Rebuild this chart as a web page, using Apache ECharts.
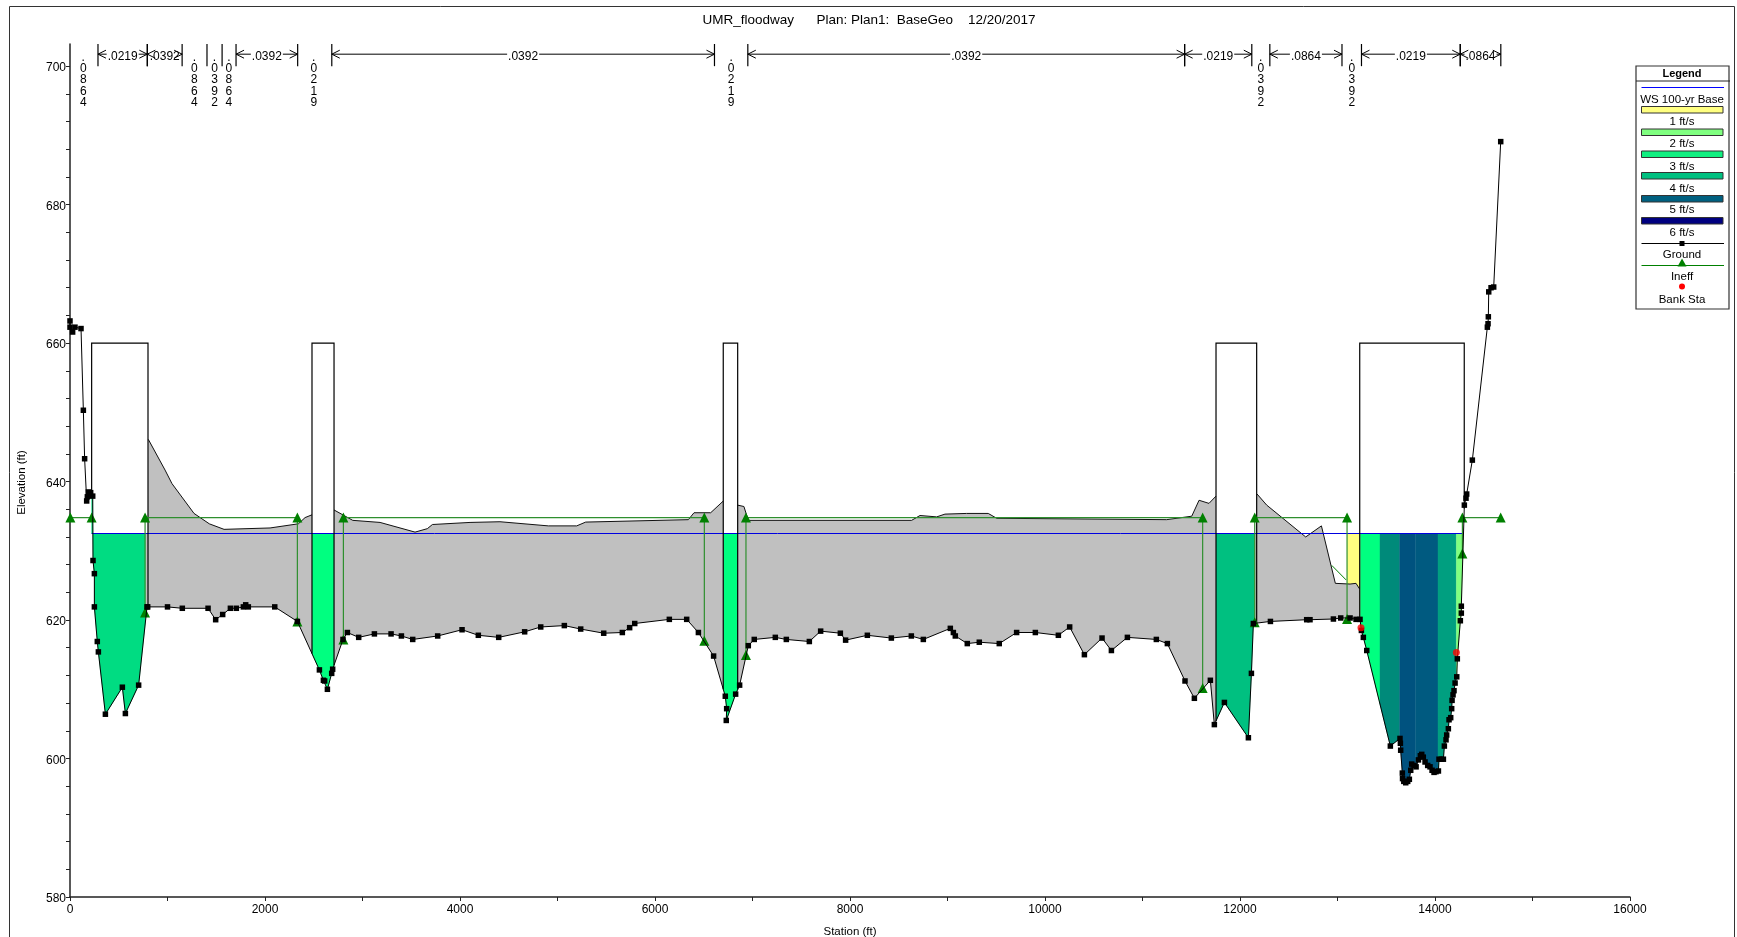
<!DOCTYPE html>
<html><head><meta charset="utf-8">
<style>html,body{margin:0;padding:0;background:#fff;overflow:hidden}#c{width:1737px;height:937px}</style>
<script src="https://cdn.jsdelivr.net/npm/echarts@6/dist/echarts.min.js"></script>
</head><body><div id="c"></div>
<script>
const FONT = '"Liberation Sans", Arial, sans-serif';
const titleText = 'UMR_floodway      Plan: Plan1:  BaseGeo    12/20/2017';
const xLabelEvery = 2000;
const yLabels = [580,600,620,640,660,680,700];
const yTicks = [580,584,588,592,596,600,604,608,612,616,620,624,628,632,636,640,644,648,652,656,660,664,668,672,676,680,684,688,692,696,700];
const wsElev = 632.5;
const blockTop = 660;

const ground = [[0,663.2],[0,662.3],[27,661.6],[51,662.3],[113,662.1],[137,650.3],[150,643.3],[171,637.2],[178,637.8],[188,638.5],[212,638.4],[233,637.9],
[236,628.6],[250,626.7],[250,621.9],[280,616.9],[291,615.4],[363,606.4],[537,610.3],[568,606.5],[704,610.6],[790,621.9],[797,621.9],[1000,621.9],[1152,621.7],[1416,621.7],[1494,620.05],[1566,620.8],[1645,621.7],[1706,621.7],[1778,621.9],[1802,622.2],[1829,621.9],[2100,621.9],[2332,619.8],[2558,612.8],[2599,611.3],[2612,611.2],[2640,610.0],[2684,612.3],[2694,612.9],[2800,617.2],[2845,618.2],[2961,617.5],[3122,618.0],[3293,618.0],[3399,617.7],[3515,617.2],[3771,617.7],
[4021,618.6],[4188,617.8],[4397,617.5],[4663,618.3],[4828,619.0],[5070,619.2],[5238,618.7],[5474,618.1],[5665,618.2],[5740,618.9],[5792,619.5],[6147,620.1],[6325,620.1],[6445,618.2],[6601,614.8],[6721,609.0],[6735,607.2],[6731,605.5],[6827,609.3],[6868,610.6],[6957,616.3],[7018,617.2],[7234,617.5],[7347,617.2],[7583,616.9],[7699,618.4],[7901,618.1],[7955,617.1],[8178,617.8],[8424,617.4],[8629,617.7],[8752,617.2],[9029,618.8],[9060,618.2],[9080,617.7],[9203,616.6],[9326,616.8],[9531,616.6],[9709,618.2],[9901,618.2],[10137,617.8],[10253,619.0],[10404,615.0],[10585,617.4],[10681,615.6],[10845,617.5],[11142,617.2],[11255,616.6],[11436,611.2],[11532,608.7],[11696,611.3],[11737,604.9],[11840,608.1],[12086,603.0],[12117,612.3],[12137,619.5],[12312,619.8],[12684,620.05],[12718,620.05],[12958,620.15],[13033,620.3],[13129,620.3],[13190,620.1],[13231,620.1],[13245,618.5],[13265,617.5],[13300,615.6],[13542,601.8],
[13641,602.9],[13645,602.2],[13648,601.2],[13665,597.9],[13667,597.1],[13680,596.7],[13700,596.5],[13720,596.7],[13737,597.0],[13751,598.3],[13761,599.2],[13785,599.0],[13806,598.8],[13830,599.8],[13850,600.4],[13864,600.6],[13880,600.2],[13898,599.5],[13925,599.0],[13949,598.8],[13970,598.3],[13990,598.0],[14010,598.1],[14035,598.2],[14041,599.9],[14065,599.9],[14086,599.9],[14096,601.8],[14113,602.7],[14120,603.4],[14137,604.3],[14144,605.6],[14161,605.9],[14171,607.2],[14175,608.4],[14185,609.2],[14195,609.8],[14206,610.9],[14223,611.8],[14229,614.4],[14260,619.9],[14270,621.0],[14270,622.0],[14301,636.6],[14318,637.6],[14325,638.2],[14383,643.1],[14537,662.3],[14544,662.8],[14547,663.8],[14551,667.4],[14575,668.0],[14602,668.1],[14674,689.1]];

const ineff = [[4,634.8],[222,634.8],null,
[770,621.1],[770,634.8],[2332,634.8],[2332,619.8],null,
[2804,617.2],[2804,634.8],[6506,634.8],[6506,617.0],null,
[6933,614.95],[6933,634.8],[11617,634.8],[11617,610.2],null,
[12151,619.7],[12151,634.8],[13098,634.8],[13098,620.15],null,
[14281,629.6],[14281,634.8],[14674,634.8]];
const ineffDiag = [[12941,627.9],[13088,625.8]];
const bankSta = [[13241,618.9],[14219,615.3]];

// velocity strips: from station, to station, colour
const stripFrom = [222,2482,6700,11754,13101,13234,13436,13638,13800,14031,14219];
const stripTo   = [775,2708,6848,12151,13234,13436,13638,13800,14031,14219,14291];
const stripCol  = ['#00DC82','#00FF80','#00FF80','#00C080','#FFFF80','#00FF80','#008A7A','#00527F','#005A80','#009F80','#80FF80'];

// grey obstructed terrain: upper outline per reach
const greyTops = [
 [[775,632.5],[800,632.5],[803,646.1],[975,641.66],[1046,639.7],[1272,635.4],[1429,633.9],[1580,633.1],[2052,633.3],[2342,633.9],[2411,634.8],[2482,635.2]],
 [[2708,635.9],[2900,634.4],[3180,634.1],[3539,632.7],[3665,633.2],[3717,633.8],[4103,634.1],[4410,634.2],[4906,633.6],[5197,633.6],[5289,634.15],[6342,634.5],[6400,635.5],[6571,635.5],[6701,637.2]],
 [[6847,636.6],[6912,636.4],[6957,634.4],[8632,634.4],[8718,635.1],[8889,634.9],[8974,635.3],[9196,635.4],[9418,635.4],[9504,634.7],[10359,634.6],[11248,634.5],[11505,635.0],[11580,637.3],[11682,636.85],[11754,637.9]],
 [[12151,632.5],[12171,632.5],[12175,638.2],[12274,636.6],[12674,632.0],[12835,633.6],[12978,625.3],[13129,625.2],[13190,625.3],[13226,624.5]]
];

// blocked rectangles
const blockFrom = [222,2482,6700,11754,13228];
const blockTo   = [800,2708,6848,12171,14300];

// Manning's n annotation
const nSpans = [[287,793,'.0219'],[793,1150,'.0392'],[1703,2335,'.0392'],[2685,6610,'.0392'],[6952,11432,'.0392'],[11432,12121,'.0219'],[12306,13046,'.0864'],[13246,14259,'.0219'],[14259,14675,'.0864']];
const nBars = [1405,1560];
const nVert = [[136,'.0864'],[1275,'.0864'],[1482,'.0392'],[1630,'.0864'],[2500,'.0219'],[6780,'.0219'],[12213,'.0392'],[13146,'.0392']];
const nTop = 703.2, nBottom = 700, nLine = 701.73;

const legendLabels = ['WS 100-yr Base','1 ft/s','2 ft/s','3 ft/s','4 ft/s','5 ft/s','6 ft/s','Ground','Ineff','Bank Sta'];
const legendLabelY = [100,122,144,166.5,189,210,233,255,277,300];
const swatchCols = ['#FFFF80','#80FF80','#10F080','#00C080','#006080','#000080'];
const swatchY = [106.5,129,151,172.5,195.5,217.5];

function groundAt(s){
  for(let i=1;i<ground.length;i++){
    const a=ground[i-1],b=ground[i];
    if(s>=a[0]&&s<=b[0]&&b[0]>a[0]) return a[1]+(b[1]-a[1])*(s-a[0])/(b[0]-a[0]);
  }
  return ground[ground.length-1][1];
}
function groundBetween(s1,s2){ // from s1 to s2 inclusive
  const out=[[s1,groundAt(s1)]];
  ground.forEach(p=>{ if(p[0]>s1&&p[0]<s2) out.push(p); });
  out.push([s2,groundAt(s2)]);
  return out;
}

const stripItem=(p,api)=>{
  const i=api.value(0), s1=stripFrom[i], s2=stripTo[i];
  const pts=[[s1,wsElev],[s2,wsElev]].concat(groundBetween(s1,s2).reverse()).map(d=>api.coord(d));
  return {type:'polygon',shape:{points:pts},style:{fill:stripCol[i],stroke:stripCol[i],lineWidth:0.4}};
};
const greyItem=(p,api)=>{
  const t=greyTops[api.value(0)], s1=t[0][0], s2=t[t.length-1][0];
  const up=t.map(d=>api.coord(d));
  const low=groundBetween(s1,s2).reverse().map(d=>api.coord(d));
  const lineFrom = t[0][1]===wsElev ? 2 : 0;
  return {type:'group',children:[
    {type:'polygon',shape:{points:up.concat(low)},style:{fill:'#C0C0C0',stroke:null}},
    {type:'polyline',shape:{points:up.slice(lineFrom)},style:{fill:null,stroke:'#111',lineWidth:1}}
  ]};
};
const blockItem=(p,api)=>{
  const i=api.value(0), a=blockFrom[i], b=blockTo[i];
  const pts=[[a,groundAt(a)],[a,blockTop],[b,blockTop],[b,groundAt(b)]].map(d=>api.coord(d));
  return {type:'polyline',shape:{points:pts},style:{fill:null,stroke:'#000',lineWidth:1.2}};
};
const lineS={fill:null,stroke:'#000',lineWidth:1};
const barEl=(s,api)=>{
  const x=api.coord([s,nTop]), y=api.coord([s,nBottom]);
  return {type:'line',shape:{x1:x[0],y1:x[1],x2:y[0],y2:y[1]},style:{stroke:'#000',lineWidth:1.2}};
};
const spanItem=(p,api)=>{
  const d=nSpans[api.value(0)];
  const L=api.coord([d[0],nLine]), R=api.coord([d[1],nLine]), y=L[1], m=(L[0]+R[0])/2;
  return {type:'group',children:[
    {type:'line',shape:{x1:L[0],y1:y,x2:R[0],y2:y},style:lineS},
    {type:'text',x:m,y:y+3,style:{text:d[2],fill:'#000',font:'12px '+FONT,align:'center',verticalAlign:'middle',backgroundColor:'#fff',padding:[0,1]}},
    barEl(d[0],api),barEl(d[1],api),
    {type:'polyline',shape:{points:[[L[0]+8,y-4],[L[0],y],[L[0]+8,y+4]]},style:lineS},
    {type:'polyline',shape:{points:[[R[0]-8,y-4],[R[0],y],[R[0]-8,y+4]]},style:lineS}
  ]};
};
const vertItem=(p,api)=>{
  const d=nVert[api.value(0)];
  const c=api.coord([d[0],nBottom]);
  return {type:'text',x:c[0],y:c[1]-14.5,style:{text:d[1].split('').join('\n'),fill:'#000',font:'12px '+FONT,lineHeight:11.4,align:'center',verticalAlign:'top'}};
};
const barItem=(p,api)=>barEl(nBars[api.value(0)],api);
const diagItem=(p,api)=>({type:'line',shape:{x1:api.coord(ineffDiag[0])[0],y1:api.coord(ineffDiag[0])[1],x2:api.coord(ineffDiag[1])[0],y2:api.coord(ineffDiag[1])[1]},style:{stroke:'#008000',lineWidth:1}});

const idx=a=>a.map((_,i)=>[i]);
const custom=(name,fn,n,z,clip)=>({name,type:'custom',renderItem:fn,data:idx(n),z,clip:!!clip,silent:true,animation:false,tooltip:{show:false}});

// legend drawn as plain shapes
const LX1=1641.5, LX2=1724, LC=1682;
const g=[];
g.push({type:'rect',z:50,shape:{x:9.5,y:6.5,width:1725,height:950},style:{fill:null,stroke:'#333',lineWidth:1}});
g.push({type:'rect',z:50,shape:{x:1636,y:66,width:93,height:243},style:{fill:'#fff',stroke:'#333',lineWidth:1.2}});
g.push({type:'line',z:51,shape:{x1:1636,y1:81,x2:1730,y2:81},style:{stroke:'#222',lineWidth:1}});
g.push({type:'text',z:51,x:LC,y:73.5,style:{text:'Legend',font:'bold 11px '+FONT,fill:'#000',align:'center',verticalAlign:'middle'}});
legendLabels.forEach((t,i)=>g.push({type:'text',z:51,x:LC,y:legendLabelY[i],style:{text:t,font:'11.5px '+FONT,fill:'#000',align:'center',verticalAlign:'middle'}}));
g.push({type:'line',z:51,shape:{x1:LX1,y1:87.5,x2:LX2,y2:87.5},style:{stroke:'#0000FF',lineWidth:1}});
swatchCols.forEach((c,i)=>g.push({type:'rect',z:51,shape:{x:LX1,y:swatchY[i],width:LX2-LX1-1,height:6.5},style:{fill:c,stroke:'#333',lineWidth:1}}));
g.push({type:'line',z:51,shape:{x1:LX1,y1:243.5,x2:LX2,y2:243.5},style:{stroke:'#000',lineWidth:1}});
g.push({type:'rect',z:52,shape:{x:LC-2.5,y:241,width:5,height:5},style:{fill:'#000'}});
g.push({type:'line',z:51,shape:{x1:LX1,y1:265.5,x2:LX2,y2:265.5},style:{stroke:'#008000',lineWidth:1}});
g.push({type:'polygon',z:52,shape:{points:[[LC,258.5],[LC+4.5,266.5],[LC-4.5,266.5]]},style:{fill:'#008000'}});
g.push({type:'circle',z:52,shape:{cx:LC,cy:286.5,r:3},style:{fill:'#FF0000'}});

const option={
  animation:false,
  backgroundColor:'#fff',
  textStyle:{fontFamily:FONT},
  title:{text:titleText,left:864,top:8,textAlign:'center',textStyle:{fontFamily:FONT,fontSize:13.5,fontWeight:'normal',color:'#000'}},
  grid:{left:70,right:107,top:44,bottom:40,containLabel:false,outerBoundsMode:'none'},
  xAxis:{type:'value',min:0,max:16000,interval:xLabelEvery,
    name:'Station (ft)',nameLocation:'middle',nameGap:29,nameTextStyle:{fontFamily:FONT,fontSize:11.5,color:'#000'},
    axisLine:{onZero:false,lineStyle:{color:'#222',width:1.5}},
    axisTick:{inside:false,length:4,lineStyle:{color:'#222'}},
    minorTick:{show:true,splitNumber:2,length:4,lineStyle:{color:'#222'}},
    splitLine:{show:false},minorSplitLine:{show:false},
    axisLabel:{color:'#000',fontFamily:FONT,fontSize:12,margin:7,formatter:v=>String(v)}},
  yAxis:{type:'value',min:580,max:703.2,
    name:'Elevation (ft)',nameLocation:'middle',nameGap:42,nameTextStyle:{fontFamily:FONT,fontSize:11.5,color:'#000',padding:[0,24,0,0]},
    axisLine:{onZero:false,show:true,lineStyle:{color:'#222',width:1.5}},
    axisTick:{show:true,inside:false,length:4,customValues:yTicks,lineStyle:{color:'#222'}},
    splitLine:{show:false},
    axisLabel:{show:true,color:'#000',fontFamily:FONT,fontSize:12,margin:4,customValues:yLabels,verticalAlign:'top',lineHeight:4}},
  graphic:g,
  series:[
    custom('strips',stripItem,stripFrom,2),
    custom('grey',greyItem,greyTops,3),
    {name:'WS 100-yr Base',type:'line',z:4,symbol:'none',silent:true,lineStyle:{color:'#0000E0',width:1},data:[[222,wsElev],[14291,wsElev]]},
    custom('blocks',blockItem,blockFrom,5),
    custom('ineffDiag',diagItem,[0],6),
    {name:'Ineff',type:'line',z:7,silent:true,symbol:'triangle',symbolSize:[10,10],showAllSymbol:true,connectNulls:false,
      itemStyle:{color:'#008000'},lineStyle:{color:'#2E8F2E',width:1.2},
      data:ineff.map(d=>d===null?['-','-']:d)},
    {name:'Ground',type:'line',z:8,silent:true,symbol:'rect',symbolSize:5.5,showAllSymbol:true,
      itemStyle:{color:'#000'},lineStyle:{color:'#000',width:1},data:ground},
    {name:'Bank Sta',type:'scatter',z:9,silent:true,symbol:'circle',symbolSize:7,itemStyle:{color:'#FF0000'},data:bankSta},
    custom('nSpans',spanItem,nSpans,10,false),
    custom('nBars',barItem,nBars,10,false),
    custom('nVert',vertItem,nVert,10,false)
  ]
};
const chart=echarts.init(document.getElementById('c'),null,{renderer:'canvas'});
chart.setOption(option);
</script></body></html>
